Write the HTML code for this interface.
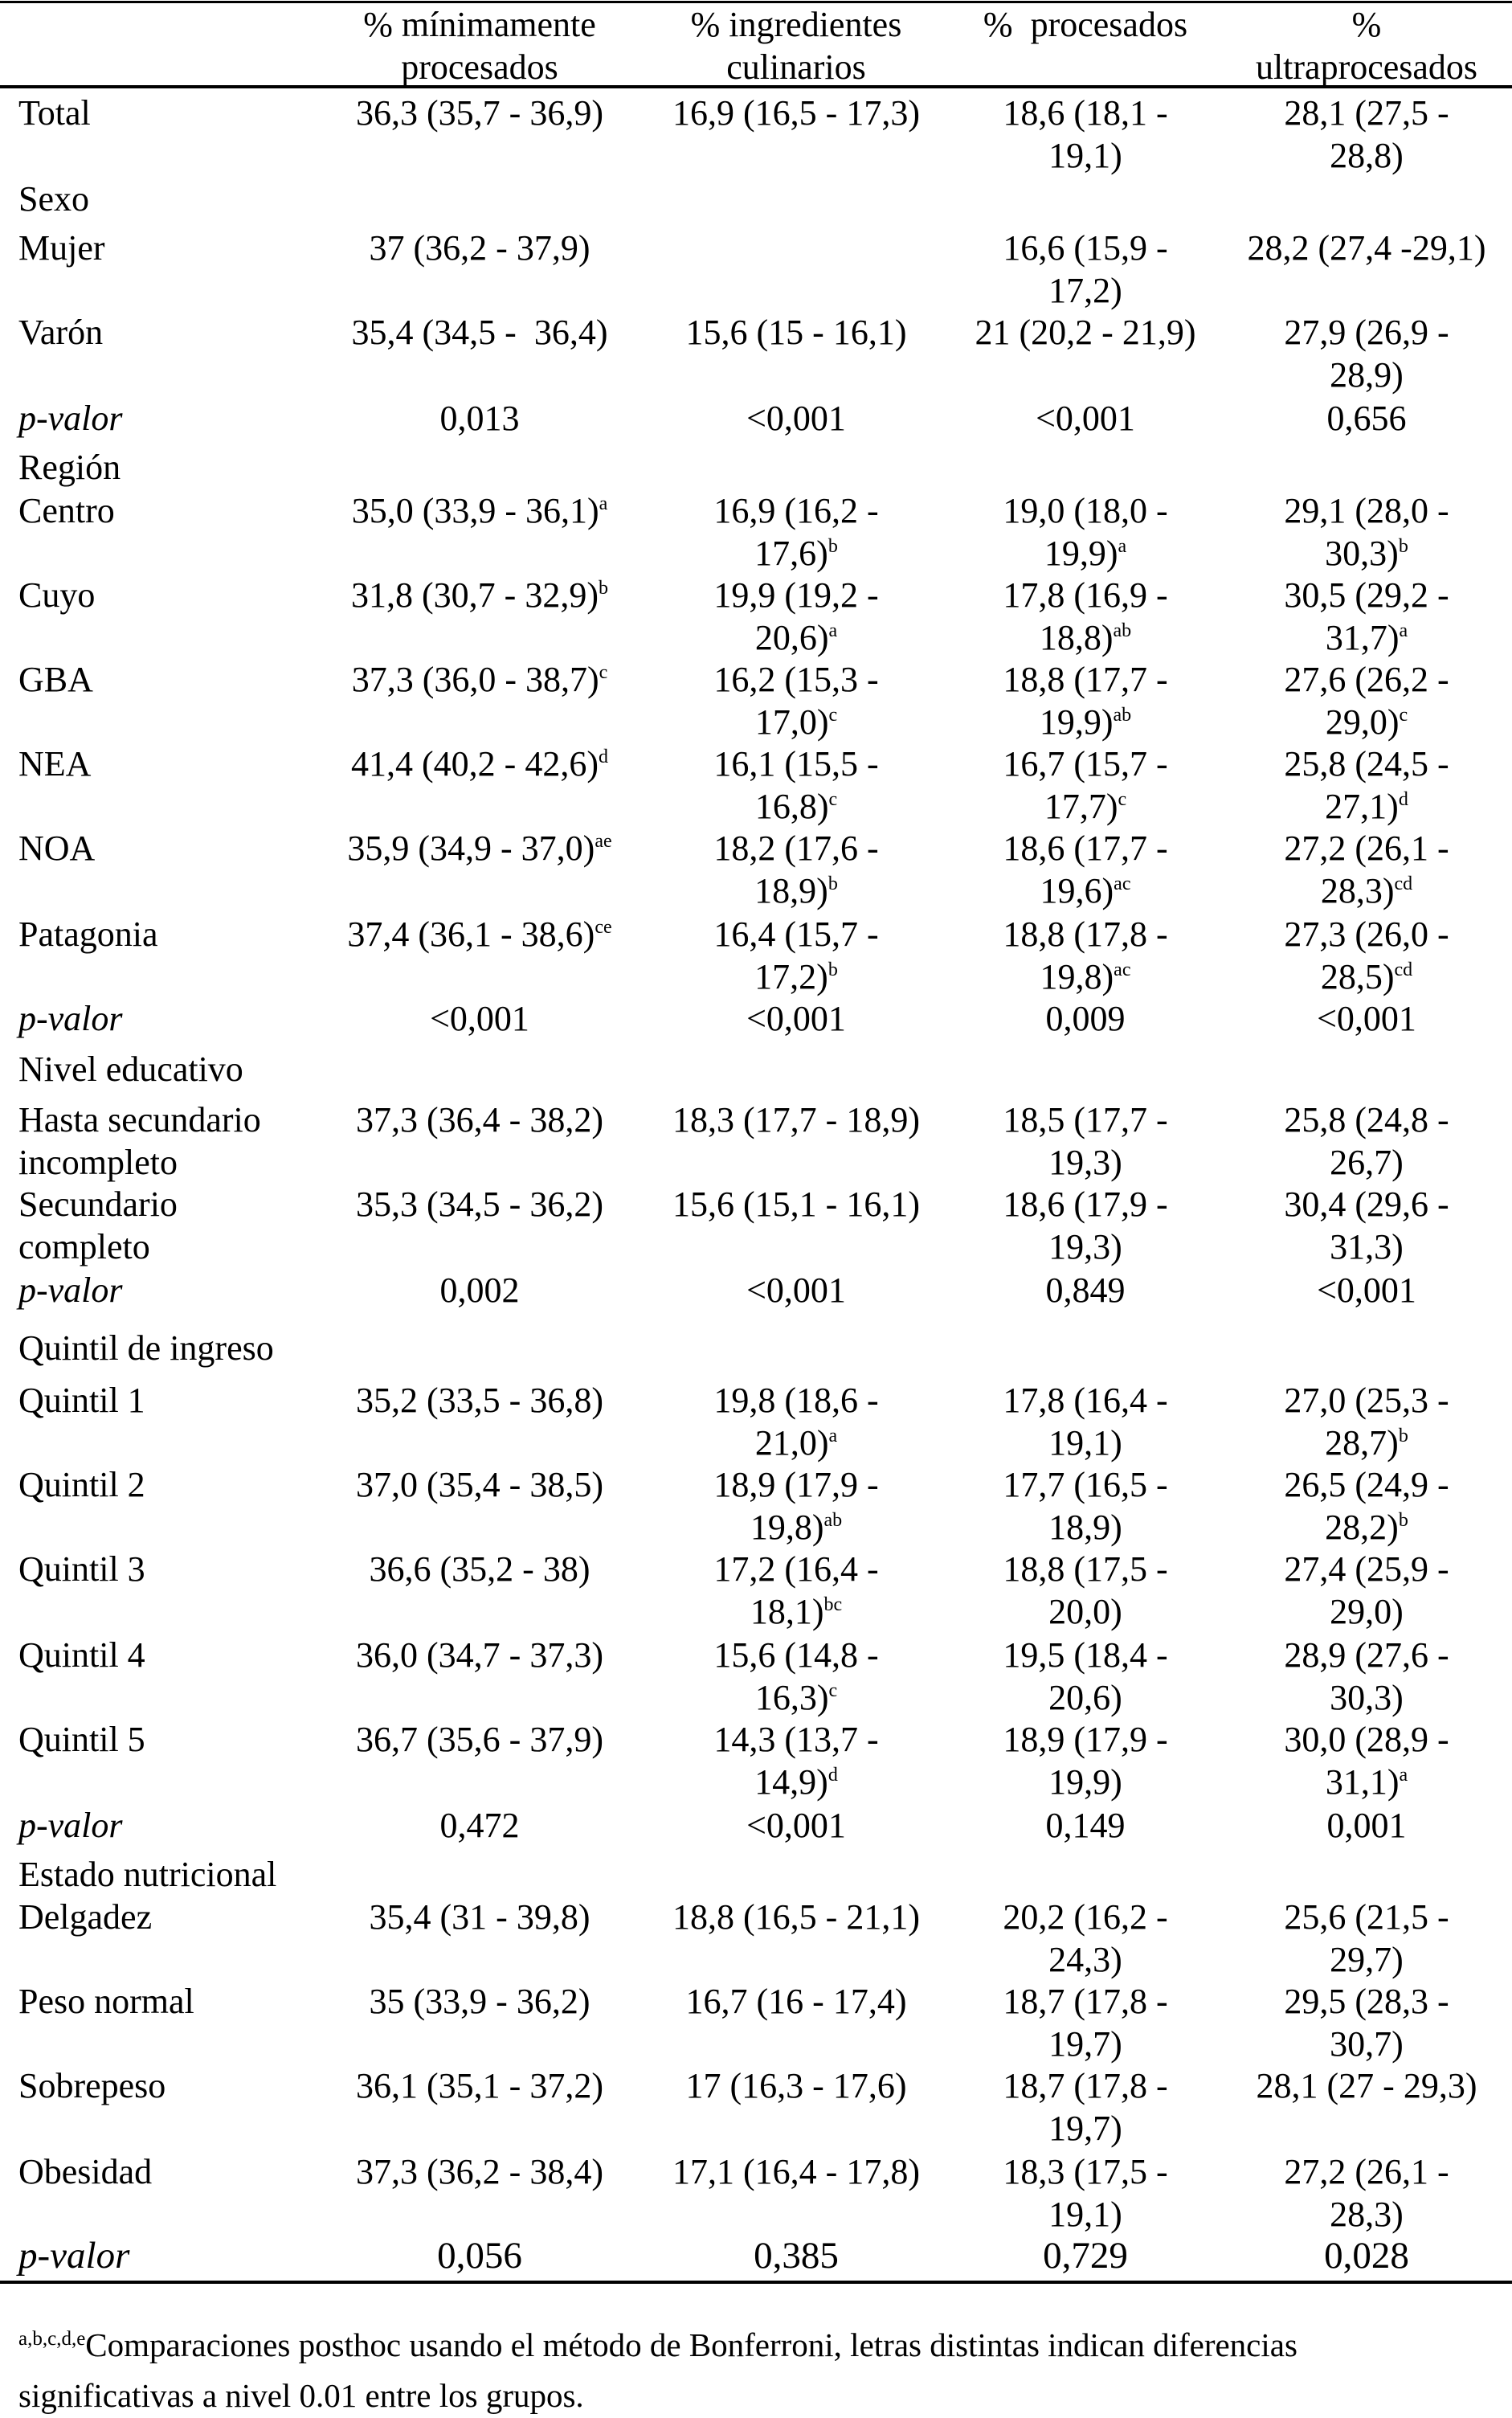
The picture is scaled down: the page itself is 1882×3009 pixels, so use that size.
<!DOCTYPE html>
<html><head><meta charset="utf-8">
<style>
html,body{margin:0;padding:0;background:#fff;}
body{width:1882px;height:2992px;position:relative;overflow:hidden;font-family:"Liberation Serif","DejaVu Serif",serif;font-size:44px;color:#000;}
.r{position:absolute;left:0;width:1882px;height:53px;line-height:53px;}
.l{position:absolute;left:23px;white-space:nowrap;}
.c{position:absolute;width:400px;text-align:center;white-space:nowrap;}
.c1{left:397px;}.c2{left:791px;}.c3{left:1151px;}.c4{left:1501px;}
sup{font-size:24px;line-height:1;vertical-align:baseline;position:relative;top:-16px;}
i{font-style:italic;}
.line{position:absolute;left:0;width:1882px;background:#000;}
</style></head><body>
<div class="line" style="top:1px;height:3px"></div>
<div class="line" style="top:106px;height:4px"></div>
<div class="line" style="top:2838px;height:4px"></div>

<div class="r" style="top:4px"><div class="c c1">% mínimamente<br>procesados</div><div class="c c2">% ingredientes<br>culinarios</div><div class="c c3">%&nbsp; procesados</div><div class="c c4">%<br>ultraprocesados</div></div>

<div class="r" style="top:114px"><div class="l">Total</div><div class="c c1">36,3 (35,7 - 36,9)</div><div class="c c2">16,9 (16,5 - 17,3)</div><div class="c c3">18,6 (18,1 -<br>19,1)</div><div class="c c4">28,1 (27,5 -<br>28,8)</div></div>
<div class="r" style="top:221px"><div class="l">Sexo</div></div>
<div class="r" style="top:282px"><div class="l">Mujer</div><div class="c c1">37 (36,2 - 37,9)</div><div class="c c3">16,6 (15,9 -<br>17,2)</div><div class="c c4">28,2 (27,4 -29,1)</div></div>
<div class="r" style="top:387px"><div class="l">Varón</div><div class="c c1">35,4 (34,5 -&nbsp; 36,4)</div><div class="c c2">15,6 (15 - 16,1)</div><div class="c c3">21 (20,2 - 21,9)</div><div class="c c4">27,9 (26,9 -<br>28,9)</div></div>
<div class="r" style="top:494px"><div class="l"><i>p-valor</i></div><div class="c c1">0,013</div><div class="c c2">&lt;0,001</div><div class="c c3">&lt;0,001</div><div class="c c4">0,656</div></div>
<div class="r" style="top:555px"><div class="l">Región</div></div>
<div class="r" style="top:609px"><div class="l">Centro</div><div class="c c1">35,0 (33,9 - 36,1)<sup>a</sup></div><div class="c c2">16,9 (16,2 -<br>17,6)<sup>b</sup></div><div class="c c3">19,0 (18,0 -<br>19,9)<sup>a</sup></div><div class="c c4">29,1 (28,0 -<br>30,3)<sup>b</sup></div></div>
<div class="r" style="top:714px"><div class="l">Cuyo</div><div class="c c1">31,8 (30,7 - 32,9)<sup>b</sup></div><div class="c c2">19,9 (19,2 -<br>20,6)<sup>a</sup></div><div class="c c3">17,8 (16,9 -<br>18,8)<sup>ab</sup></div><div class="c c4">30,5 (29,2 -<br>31,7)<sup>a</sup></div></div>
<div class="r" style="top:819px"><div class="l">GBA</div><div class="c c1">37,3 (36,0 - 38,7)<sup>c</sup></div><div class="c c2">16,2 (15,3 -<br>17,0)<sup>c</sup></div><div class="c c3">18,8 (17,7 -<br>19,9)<sup>ab</sup></div><div class="c c4">27,6 (26,2 -<br>29,0)<sup>c</sup></div></div>
<div class="r" style="top:924px"><div class="l">NEA</div><div class="c c1">41,4 (40,2 - 42,6)<sup>d</sup></div><div class="c c2">16,1 (15,5 -<br>16,8)<sup>c</sup></div><div class="c c3">16,7 (15,7 -<br>17,7)<sup>c</sup></div><div class="c c4">25,8 (24,5 -<br>27,1)<sup>d</sup></div></div>
<div class="r" style="top:1029px"><div class="l">NOA</div><div class="c c1">35,9 (34,9 - 37,0)<sup>ae</sup></div><div class="c c2">18,2 (17,6 -<br>18,9)<sup>b</sup></div><div class="c c3">18,6 (17,7 -<br>19,6)<sup>ac</sup></div><div class="c c4">27,2 (26,1 -<br>28,3)<sup>cd</sup></div></div>
<div class="r" style="top:1136px"><div class="l">Patagonia</div><div class="c c1">37,4 (36,1 - 38,6)<sup>ce</sup></div><div class="c c2">16,4 (15,7 -<br>17,2)<sup>b</sup></div><div class="c c3">18,8 (17,8 -<br>19,8)<sup>ac</sup></div><div class="c c4">27,3 (26,0 -<br>28,5)<sup>cd</sup></div></div>
<div class="r" style="top:1241px"><div class="l"><i>p-valor</i></div><div class="c c1">&lt;0,001</div><div class="c c2">&lt;0,001</div><div class="c c3">0,009</div><div class="c c4">&lt;0,001</div></div>
<div class="r" style="top:1304px"><div class="l">Nivel educativo</div></div>
<div class="r" style="top:1367px"><div class="l">Hasta secundario<br>incompleto</div><div class="c c1">37,3 (36,4 - 38,2)</div><div class="c c2">18,3 (17,7 - 18,9)</div><div class="c c3">18,5 (17,7 -<br>19,3)</div><div class="c c4">25,8 (24,8 -<br>26,7)</div></div>
<div class="r" style="top:1472px"><div class="l">Secundario<br>completo</div><div class="c c1">35,3 (34,5 - 36,2)</div><div class="c c2">15,6 (15,1 - 16,1)</div><div class="c c3">18,6 (17,9 -<br>19,3)</div><div class="c c4">30,4 (29,6 -<br>31,3)</div></div>
<div class="r" style="top:1579px"><div class="l"><i>p-valor</i></div><div class="c c1">0,002</div><div class="c c2">&lt;0,001</div><div class="c c3">0,849</div><div class="c c4">&lt;0,001</div></div>
<div class="r" style="top:1651px"><div class="l">Quintil de ingreso</div></div>
<div class="r" style="top:1716px"><div class="l">Quintil 1</div><div class="c c1">35,2 (33,5 - 36,8)</div><div class="c c2">19,8 (18,6 -<br>21,0)<sup>a</sup></div><div class="c c3">17,8 (16,4 -<br>19,1)</div><div class="c c4">27,0 (25,3 -<br>28,7)<sup>b</sup></div></div>
<div class="r" style="top:1821px"><div class="l">Quintil 2</div><div class="c c1">37,0 (35,4 - 38,5)</div><div class="c c2">18,9 (17,9 -<br>19,8)<sup>ab</sup></div><div class="c c3">17,7 (16,5 -<br>18,9)</div><div class="c c4">26,5 (24,9 -<br>28,2)<sup>b</sup></div></div>
<div class="r" style="top:1926px"><div class="l">Quintil 3</div><div class="c c1">36,6 (35,2 - 38)</div><div class="c c2">17,2 (16,4 -<br>18,1)<sup>bc</sup></div><div class="c c3">18,8 (17,5 -<br>20,0)</div><div class="c c4">27,4 (25,9 -<br>29,0)</div></div>
<div class="r" style="top:2033px"><div class="l">Quintil 4</div><div class="c c1">36,0 (34,7 - 37,3)</div><div class="c c2">15,6 (14,8 -<br>16,3)<sup>c</sup></div><div class="c c3">19,5 (18,4 -<br>20,6)</div><div class="c c4">28,9 (27,6 -<br>30,3)</div></div>
<div class="r" style="top:2138px"><div class="l">Quintil 5</div><div class="c c1">36,7 (35,6 - 37,9)</div><div class="c c2">14,3 (13,7 -<br>14,9)<sup>d</sup></div><div class="c c3">18,9 (17,9 -<br>19,9)</div><div class="c c4">30,0 (28,9 -<br>31,1)<sup>a</sup></div></div>
<div class="r" style="top:2245px"><div class="l"><i>p-valor</i></div><div class="c c1">0,472</div><div class="c c2">&lt;0,001</div><div class="c c3">0,149</div><div class="c c4">0,001</div></div>
<div class="r" style="top:2306px"><div class="l">Estado nutricional</div></div>
<div class="r" style="top:2359px"><div class="l">Delgadez</div><div class="c c1">35,4 (31 - 39,8)</div><div class="c c2">18,8 (16,5 - 21,1)</div><div class="c c3">20,2 (16,2 -<br>24,3)</div><div class="c c4">25,6 (21,5 -<br>29,7)</div></div>
<div class="r" style="top:2464px"><div class="l">Peso normal</div><div class="c c1">35 (33,9 - 36,2)</div><div class="c c2">16,7 (16 - 17,4)</div><div class="c c3">18,7 (17,8 -<br>19,7)</div><div class="c c4">29,5 (28,3 -<br>30,7)</div></div>
<div class="r" style="top:2569px"><div class="l">Sobrepeso</div><div class="c c1">36,1 (35,1 - 37,2)</div><div class="c c2">17 (16,3 - 17,6)</div><div class="c c3">18,7 (17,8 -<br>19,7)</div><div class="c c4">28,1 (27 - 29,3)</div></div>
<div class="r" style="top:2676px"><div class="l">Obesidad</div><div class="c c1">37,3 (36,2 - 38,4)</div><div class="c c2">17,1 (16,4 - 17,8)</div><div class="c c3">18,3 (17,5 -<br>19,1)</div><div class="c c4">27,2 (26,1 -<br>28,3)</div></div>
<div class="r" style="top:2781px;font-size:47px"><div class="l"><i>p-valor</i></div><div class="c c1">0,056</div><div class="c c2">0,385</div><div class="c c3">0,729</div><div class="c c4">0,028</div></div>

<div class="r" style="top:2890px;font-size:41px;line-height:56px"><div class="l"><span style="font-size:25px;position:relative;top:-14px">a,b,c,d,e</span>Comparaciones posthoc usando el método de Bonferroni, letras distintas indican diferencias<br>significativas a nivel 0.01 entre los grupos.</div></div>
</body></html>
